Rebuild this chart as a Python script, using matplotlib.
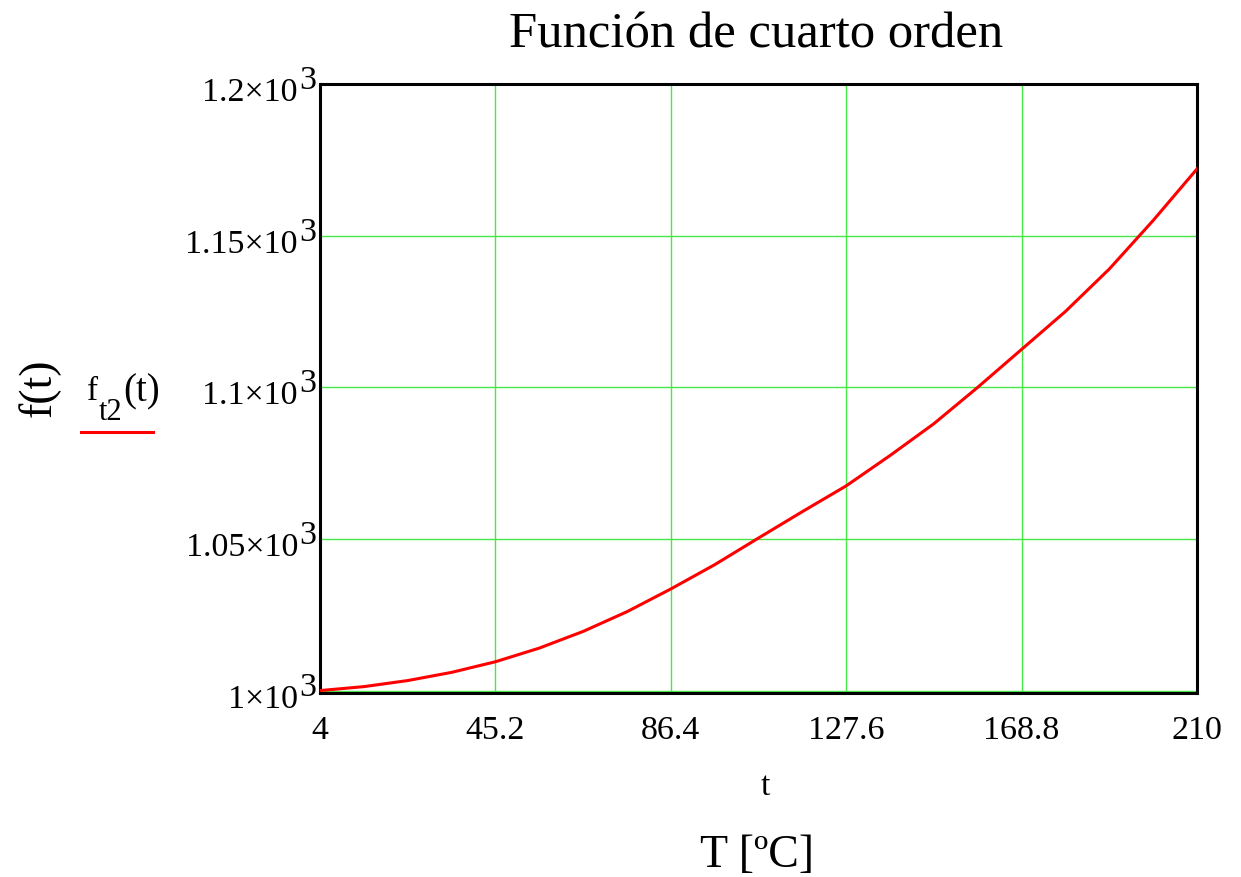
import matplotlib
matplotlib.use('Agg')
import matplotlib.pyplot as plt
from matplotlib.transforms import ScaledTranslation

plt.rcParams['font.family'] = ['Liberation Serif', 'DejaVu Serif']

# values
t_vals = [4, 14.3, 24.6, 34.9, 45.2, 55.5, 65.8, 76.1, 86.4, 96.7, 107,
          117.3, 127.6, 137.9, 148.2, 158.5, 168.8, 179.1, 189.4, 199.7, 210]
f_vals = [1000, 1001.3, 1003.3, 1006, 1009.5, 1014, 1019.5, 1026, 1033.5, 1041.5, 1050.3,
          1059, 1067.5, 1077.5, 1088, 1100, 1112.5, 1125, 1139, 1155, 1172]

x_ticks = [4, 45.2, 86.4, 127.6, 168.8, 210]
x_tick_labels = ['4', '45.2', '86.4', '127.6', '168.8', '210']
y_ticks = [1000, 1050, 1100, 1150, 1200]
y_tick_mant = ['1×10', '1.05×10', '1.1×10', '1.15×10', '1.2×10']
y_tick_exp = '3'

W, H = 1241, 877
fig = plt.figure(figsize=(W / 100, H / 100), dpi=100)
ax = fig.add_axes([320 / W, 1 - 693 / H, (1197 - 320) / W, (693 - 84) / H])

ax.plot(t_vals, f_vals, color='red', lw=2.2, zorder=3)

ax.set_xlim(4, 210)
ax.set_ylim(999.2, 1200)
ax.set_xticks(x_ticks)
ax.set_xticklabels(x_tick_labels)
ax.set_yticks(y_ticks)
ax.set_yticklabels([])
ax.tick_params(length=0, labelsize=24.5)
ax.tick_params(axis='x', pad=16)
ax.grid(True, color='#45e845', lw=1.0)
for s in ax.spines.values():
    s.set_linewidth(2.2)
    s.set_color('black')

# Mathcad-style y labels: mantissa plus a full-size raised exponent
ytr = ax.get_yaxis_transform()
for v, m in zip(y_ticks, y_tick_mant):
    ax.text(0, v, m, fontsize=24.5, ha='right', va='baseline', clip_on=False,
            transform=ytr + ScaledTranslation(-22 / 100, -17 / 100, fig.dpi_scale_trans))
    ax.text(0, v, y_tick_exp, fontsize=24.5, ha='left', va='baseline', clip_on=False,
            transform=ytr + ScaledTranslation(-21 / 100, -5 / 100, fig.dpi_scale_trans))


def px(x, y):
    return x / W, 1 - y / H


fig.text(*px(756, 48), 'Función de cuarto orden', fontsize=36.5, ha='center', va='baseline')
fig.text(*px(765, 795), 't', fontsize=24, ha='center', va='baseline')
fig.text(*px(757, 867), 'T [ºC]', fontsize=33, ha='center', va='baseline')
fig.text(*px(39, 388), 'f(t)', fontsize=33, rotation=90, ha='center', va='center')
fig.text(*px(87, 400), 'f', fontsize=24, ha='left', va='baseline')
fig.text(*px(99, 420), 't2', fontsize=22, ha='left', va='baseline')
fig.text(*px(123, 401), '(t)', fontsize=28, ha='left', va='baseline')
fig.add_artist(plt.Line2D([81 / W, 153 / W], [1 - 432 / H, 1 - 432 / H], color='red', lw=2.2))

fig.savefig('out.png', dpi=100)
